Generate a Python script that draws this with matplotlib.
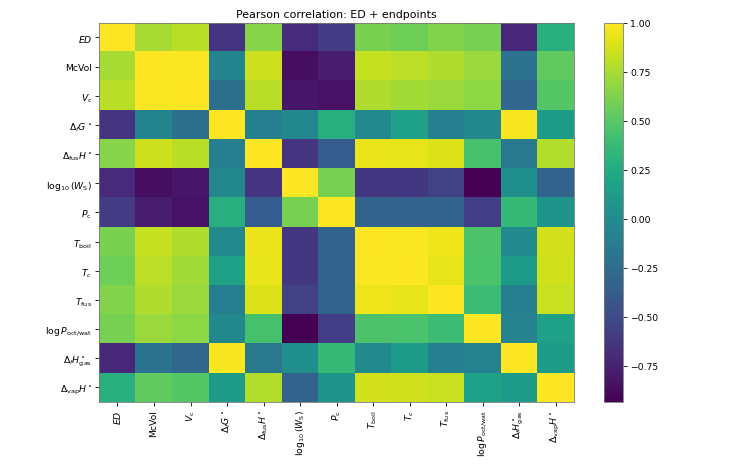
import numpy as np
import matplotlib
matplotlib.use("Agg")
import matplotlib.pyplot as plt

labels = [r"$ED$", "McVol", r"$V_\mathrm{c}$", r"$\Delta_f G^\circ$",
          r"$\Delta_\mathrm{fus} H^\circ$", r"$\log_{10}(W_\mathrm{S})$",
          r"$P_\mathrm{c}$", r"$T_\mathrm{boil}$", r"$T_c$", r"$T_\mathrm{fus}$",
          r"$\log P_\mathrm{oct/wat}$", r"$\Delta_f H^\circ_\mathrm{gas}$",
          r"$\Delta_\mathrm{vap} H^\circ$"]

# upper triangle of the correlation matrix, row by row (diagonal = 1)
r_ed     = [1.00, 0.75, 0.80, -0.64, 0.65, -0.70, -0.60, 0.61, 0.57, 0.63, 0.60, -0.72, 0.29]
r_mcvol  = [0.99, -0.06, 0.85, -0.86, -0.78, 0.83, 0.81, 0.77, 0.71, -0.20, 0.53]
r_vc     = [-0.22, 0.80, -0.82, -0.84, 0.77, 0.73, 0.71, 0.67, -0.30, 0.49]
r_dfg    = [-0.10, -0.03, 0.28, -0.01, 0.17, -0.10, -0.03, 0.98, 0.12]
r_dfus   = [-0.64, -0.37, 0.94, 0.93, 0.90, 0.44, -0.16, 0.78]
r_logws  = [0.60, -0.62, -0.62, -0.55, -0.935, 0.03, -0.32]
r_pc     = [-0.32, -0.33, -0.32, -0.58, 0.36, 0.07]
r_tboil  = [0.99, 0.95, 0.46, -0.02, 0.87]
r_tc     = [0.93, 0.45, 0.12, 0.86]
r_tfus   = [0.39, -0.10, 0.84]
r_logp   = [-0.08, 0.17]
r_dfhgas = [0.12]

rows = [r_ed, r_mcvol, r_vc, r_dfg, r_dfus, r_logws, r_pc, r_tboil,
        r_tc, r_tfus, r_logp, r_dfhgas]

n = len(labels)
corr = np.eye(n)
corr[0, :] = r_ed
for i, row in enumerate(rows[1:], start=1):
    corr[i, i + 1:] = row
corr = np.triu(corr) + np.triu(corr, 1).T

plt.rcParams["font.size"] = 9

fig = plt.figure(figsize=(10, 6.367), dpi=73.5)
ax = fig.add_axes([0.135, 0.139, 0.646, 0.810])
cax = fig.add_axes([0.822, 0.139, 0.026, 0.810])

im = ax.imshow(corr, cmap="viridis", aspect="auto", interpolation="nearest")
ax.set_xticks(range(n))
ax.set_yticks(range(n))
ax.set_xticklabels(labels, rotation=90, fontsize=9)
ax.set_yticklabels(labels, fontsize=9)
ax.set_title("Pearson correlation: ED + endpoints", fontsize=10.8)
for s in ax.spines.values():
    s.set_edgecolor("#777777")

cb = fig.colorbar(im, cax=cax)
cb.set_ticks([-0.75, -0.5, -0.25, 0, 0.25, 0.5, 0.75, 1.0])
cb.ax.tick_params(labelsize=9)
cb.outline.set_edgecolor("#777777")

fig.savefig("out.png", dpi=73.5)
